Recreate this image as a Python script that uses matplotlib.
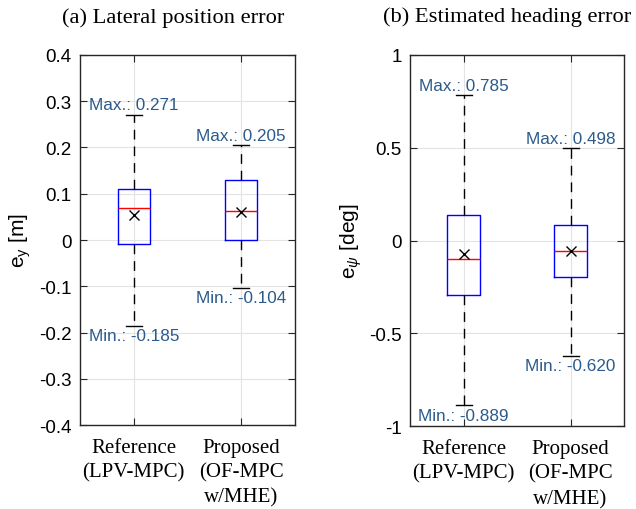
import numpy as np
import matplotlib
matplotlib.use("Agg")
import matplotlib.pyplot as plt

plt.rcParams['font.family'] = ['Liberation Sans', 'DejaVu Sans']
plt.rcParams['axes.unicode_minus'] = False
plt.rcParams['mathtext.fontset'] = 'custom'
plt.rcParams['mathtext.rm'] = 'Liberation Sans'
plt.rcParams['mathtext.it'] = 'Liberation Sans:italic'

# data
methods = ["Reference\n(LPV-MPC)", "Proposed\n(OF-MPC\nw/MHE)"]

ey_min = [-0.185, -0.104]
ey_q1 = [-0.009, 0.0]
ey_med = [0.070, 0.062]
ey_q3 = [0.110, 0.130]
ey_max = [0.271, 0.205]
ey_mean = [0.055, 0.060]

epsi_min = [-0.889, -0.620]
epsi_q1 = [-0.295, -0.196]
epsi_med = [-0.102, -0.057]
epsi_q3 = [0.136, 0.082]
epsi_max = [0.785, 0.498]
epsi_mean = [-0.072, -0.055]

lbl_color = '#2b5a8c'
serif = ['Liberation Serif', 'DejaVu Serif']


def make_stats(lo, q1, med, q3, hi, mean):
    stats = []
    for i in range(len(lo)):
        stats.append(dict(whislo=lo[i], q1=q1[i], med=med[i], q3=q3[i],
                          whishi=hi[i], mean=mean[i], fliers=[]))
    return stats


def draw(ax, stats, ylim, yticks, yticklabels, ylabel, offs):
    ax.bxp(stats, positions=[1, 2], widths=0.3, showmeans=True,
           showfliers=False, patch_artist=False,
           boxprops=dict(color='blue', linewidth=1.0),
           medianprops=dict(color='red', linewidth=1.0),
           whiskerprops=dict(color='black', linewidth=1.0, linestyle=(0, (7, 5))),
           capprops=dict(color='black', linewidth=1.0),
           meanprops=dict(marker='x', markeredgecolor='black', markersize=7,
                          markeredgewidth=1.0),
           capwidths=0.15)
    ax.set_xlim(0.5, 2.5)
    ax.set_ylim(*ylim)
    ax.grid(True, color='#e3e3e3', linewidth=0.8)
    ax.set_axisbelow(True)
    ax.tick_params(direction='in', top=True, right=True, length=5,
                   color='#262626', pad=6)
    ax.tick_params(axis='y', labelsize=13.5)
    ax.tick_params(axis='x', pad=9)
    ax.set_yticks(yticks)
    ax.set_yticklabels(yticklabels)
    ax.set_xticks([1, 2])
    ax.set_xticklabels(methods, family=serif, fontsize=15, linespacing=1.42)
    for s in ax.spines.values():
        s.set_color('#262626')
        s.set_linewidth(1.0)
    ax.set_ylabel(ylabel, fontsize=15, labelpad=4)
    for i, st in enumerate(stats):
        ax.text(i + 1, st['whishi'] + offs, "Max.: %.3f" % st['whishi'],
                ha='center', va='bottom', color=lbl_color, fontsize=12.3)
        ax.text(i + 1, st['whislo'] - offs, "Min.: %.3f" % st['whislo'],
                ha='center', va='top', color=lbl_color, fontsize=12.3)


fig = plt.figure(figsize=(6.36, 5.1), dpi=100)
ax1 = fig.add_axes([0.1258, 0.1647, 0.338, 0.7255])
ax2 = fig.add_axes([0.6447, 0.1627, 0.3365, 0.7275])

draw(ax1, make_stats(ey_min, ey_q1, ey_med, ey_q3, ey_max, ey_mean),
     (-0.4, 0.4), np.round(np.arange(-0.4, 0.41, 0.1), 1),
     ["-0.4", "-0.3", "-0.2", "-0.1", "0", "0.1", "0.2", "0.3", "0.4"],
     "e$_\\mathrm{y}$ [m]", 0.005)

draw(ax2, make_stats(epsi_min, epsi_q1, epsi_med, epsi_q3, epsi_max, epsi_mean),
     (-1, 1), [-1, -0.5, 0, 0.5, 1],
     ["-1", "-0.5", "0", "0.5", "1"],
     "e$_\\psi$ [deg]", 0.012)

fig.text(173.5 / 636, 1 - 18 / 510, "(a) Lateral position error",
         family=serif, fontsize=16.2, ha='center', va='center')
fig.text(507.5 / 636, 1 - 17 / 510, "(b) Estimated heading error",
         family=serif, fontsize=16.2, ha='center', va='center')

fig.savefig("out.png", dpi=100)
